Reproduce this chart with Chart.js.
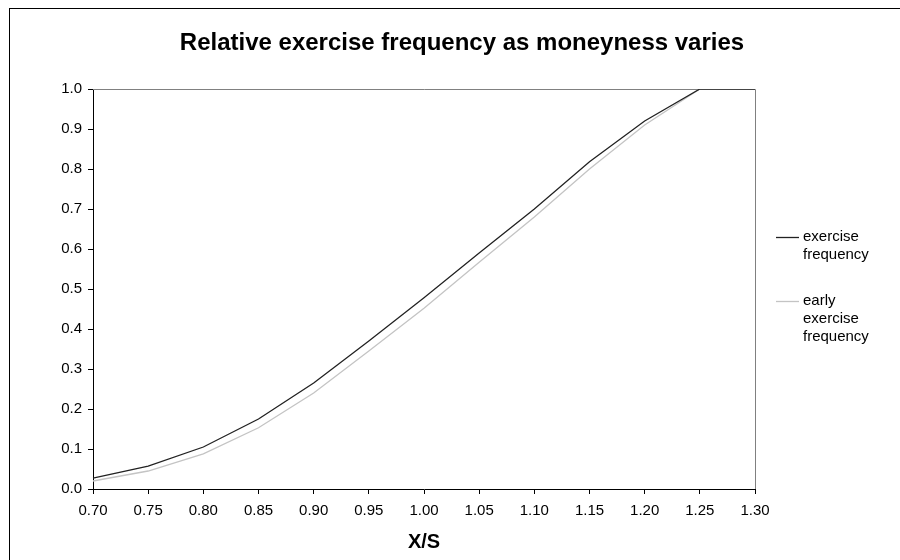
<!DOCTYPE html>
<html>
<head>
<meta charset="utf-8">
<script src="https://cdn.jsdelivr.net/npm/chart.js@4/dist/chart.umd.min.js"></script>
<style>
  html, body { margin: 0; padding: 0; background: #fff; overflow: hidden; }
  #wrap { width: 900px; height: 560px; }
</style>
</head>
<body>
<div id="wrap"><canvas id="freqChart" width="900" height="560"></canvas></div>
<script>
// data
var xLabels = ['0.70', '0.75', '0.80', '0.85', '0.90', '0.95', '1.00', '1.05', '1.10', '1.15', '1.20', '1.25', '1.30'];
var exerciseFreq = [0.027, 0.057, 0.105, 0.175, 0.265, 0.37, 0.478, 0.59, 0.70, 0.818, 0.92, 1.0, 1.0];
var earlyExerciseFreq = [0.02, 0.045, 0.088, 0.153, 0.24, 0.345, 0.452, 0.567, 0.68, 0.80, 0.91, 1.0, 1.0];
var legendLines = [['exercise', 'frequency'], ['early', 'exercise', 'frequency']];
var chartTitle = 'Relative exercise frequency as moneyness varies';

var FONT = '"Liberation Sans", Arial, sans-serif';

// white background, outer frame, title and plot border
var decor = {
    id: 'decor',
    beforeDraw: function(chart) {
        var c = chart.ctx;
        c.save();
        c.fillStyle = '#fff';
        c.fillRect(0, 0, chart.width, chart.height);
        c.strokeStyle = '#000';
        c.lineWidth = 1;
        c.strokeRect(9.5, 8.5, 1000, 1000);
        c.fillStyle = '#000';
        c.font = 'bold 24px ' + FONT;
        c.textAlign = 'center';
        c.textBaseline = 'middle';
        c.fillText(chartTitle, 462, 43);
        c.restore();
    },
    beforeDatasetsDraw: function(chart) {
        var a = chart.chartArea, c = chart.ctx;
        c.save();
        c.strokeStyle = '#808080';
        c.lineWidth = 1;
        c.beginPath();
        c.moveTo(a.left, Math.round(a.top) + 0.5);
        c.lineTo(Math.round(a.right) + 0.5, Math.round(a.top) + 0.5);
        c.lineTo(Math.round(a.right) + 0.5, a.bottom);
        c.stroke();
        c.restore();
    },
    afterDraw: function(chart) {
        // legend on the right, labels wrapped like the original
        var a = chart.chartArea, c = chart.ctx;
        var lh = 17.7;
        var y0 = [237, 301];
        c.save();
        c.font = '15px ' + FONT;
        c.textAlign = 'left';
        c.textBaseline = 'middle';
        chart.data.datasets.forEach(function(ds, i) {
            var y = y0[i];
            c.strokeStyle = ds.borderColor;
            c.lineWidth = ds.borderWidth;
            c.beginPath();
            c.moveTo(a.right + 21, y + 0.5);
            c.lineTo(a.right + 44, y + 0.5);
            c.stroke();
            c.fillStyle = '#000';
            legendLines[i].forEach(function(t, j) {
                c.fillText(t, a.right + 48, y + j * lh);
            });
        });
        c.restore();
    }
};

var ctx = document.getElementById('freqChart').getContext('2d');
var freqChart = new Chart(ctx, {
    type: 'line',
    data: {
        labels: xLabels,
        datasets: [{
            label: legendLines[0].join(' '),
            data: exerciseFreq,
            borderColor: '#222',
            borderWidth: 1.3,
            pointRadius: 0,
            tension: 0,
            fill: false
        }, {
            label: legendLines[1].join(' '),
            data: earlyExerciseFreq,
            borderColor: '#c4c4c4',
            borderWidth: 1.3,
            pointRadius: 0,
            tension: 0,
            fill: false
        }]
    },
    options: {
        responsive: false,
        animation: false,
        layout: {
            padding: { top: 89, left: 0, right: 145, bottom: 0 }
        },
        plugins: {
            legend: { display: false },
            title: { display: false },
            tooltip: { enabled: false }
        },
        scales: {
            x: {
                type: 'category',
                offset: false,
                afterFit: function(s) { s.height = 71; },
                grid: {
                    drawOnChartArea: false,
                    drawTicks: true,
                    tickLength: 5,
                    color: '#000'
                },
                border: { display: true, color: '#000', width: 1 },
                ticks: {
                    color: '#000',
                    padding: 8,
                    maxRotation: 0,
                    autoSkip: false,
                    font: { family: FONT, size: 15 }
                },
                title: {
                    display: true,
                    text: 'X/S',
                    color: '#000',
                    padding: { top: 0, bottom: 6 },
                    font: { family: FONT, size: 20, weight: 'bold' }
                }
            },
            y: {
                min: 0,
                max: 1,
                afterFit: function(s) { s.width = 93; },
                grid: {
                    drawOnChartArea: false,
                    drawTicks: true,
                    tickLength: 5,
                    color: '#000'
                },
                border: { display: true, color: '#000', width: 1 },
                ticks: {
                    stepSize: 0.1,
                    color: '#000',
                    padding: 6,
                    font: { family: FONT, size: 15 },
                    callback: function(v) { return Number(v).toFixed(1); }
                }
            }
        }
    },
    plugins: [decor]
});
</script>
</body>
</html>
